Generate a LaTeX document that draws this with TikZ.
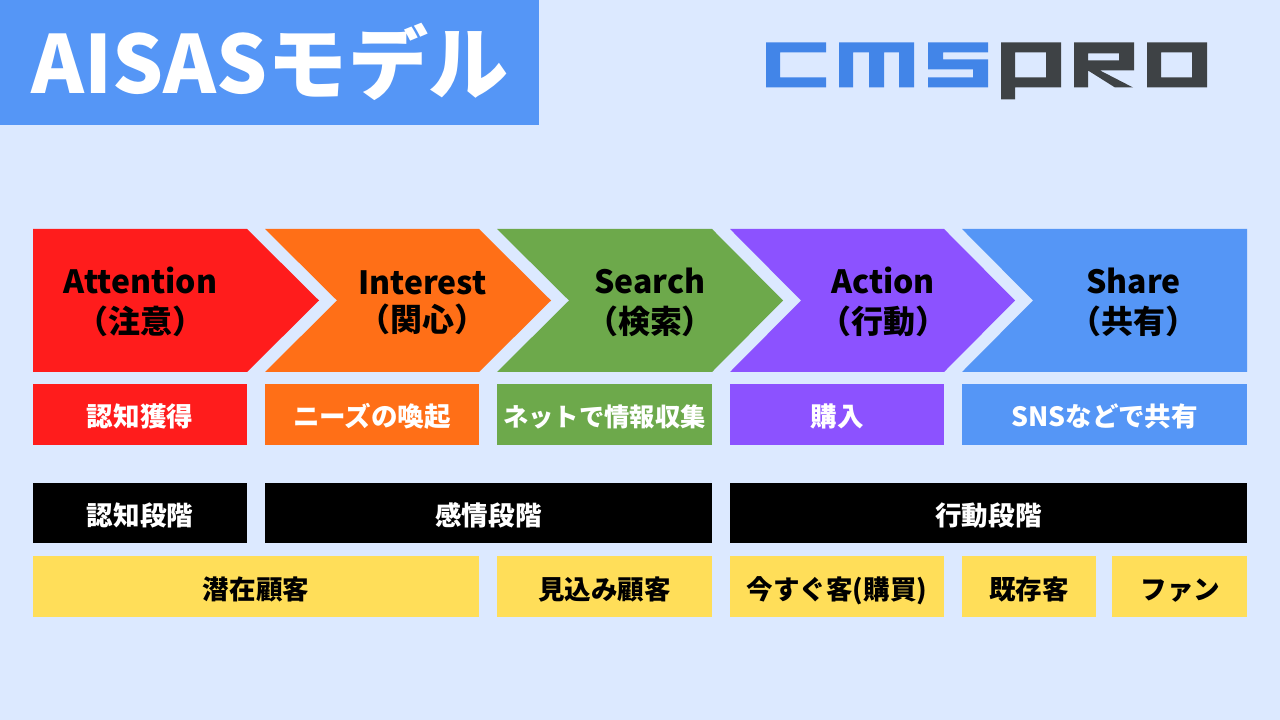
\documentclass[tikz,border=0pt]{standalone}
\usepackage{fontspec}
\setmainfont{Noto Sans CJK JP}
\definecolor{bgblue}{HTML}{DCE9FF}
\definecolor{cred}{HTML}{FF1C1C}
\definecolor{corange}{HTML}{FF6F17}
\definecolor{cgreen}{HTML}{6DA94B}
\definecolor{cpurple}{HTML}{8C52FF}
\definecolor{cblue}{HTML}{5596F6}
\definecolor{cyellow}{HTML}{FFDE59}
\definecolor{logoblue}{HTML}{4285E8}
\definecolor{logogray}{HTML}{3E4245}
\tikzset{
	head/.style={align=center, font=\fontsize{9.1}{11.4}\selectfont\bfseries, text=black},
	bar/.style={minimum height=0.61cm, inner sep=0pt, align=center, text height=7pt, text depth=0.06pt, font=\fontsize{7.55}{9}\selectfont\bfseries},
	stage/.style={bar, minimum height=0.605cm, fill=black, text=white},
	cust/.style={bar, minimum height=0.61cm, text height=7.5pt, text depth=0pt, fill=cyellow, text=black},
}
\begin{document}
\begin{tikzpicture}
	\useasboundingbox (0,0) rectangle (12.8,-7.2);
	\fill[bgblue] (0,0) rectangle (12.8,-7.2);
	% Title
	\fill[cblue] (0,0) rectangle (5.39,-1.25);
	\node[text=white, font=\fontsize{22.8}{27}\selectfont\bfseries, inner sep=0pt] (title) at (2.70,-0.62) {AISASモデル};
	% Logo
	\fill[logoblue] (7.66,-0.425) -- (8.26,-0.425) -- (8.26,-0.525) -- (7.80,-0.525) -- (7.80,-0.775) -- (8.26,-0.775) -- (8.26,-0.875) -- (7.66,-0.875) -- cycle;
	\fill[logoblue] (8.39,-0.425) -- (9.14,-0.425) -- (9.14,-0.875) -- (8.99,-0.875) -- (8.99,-0.525) -- (8.84,-0.525) -- (8.84,-0.875) -- (8.69,-0.875) -- (8.69,-0.525) -- (8.53,-0.525) -- (8.53,-0.875) -- (8.39,-0.875) -- cycle;
	\fill[logoblue] (9.28,-0.425) -- (9.88,-0.425) -- (9.88,-0.525) -- (9.43,-0.525) -- (9.43,-0.595) -- (9.88,-0.595) -- (9.88,-0.875) -- (9.28,-0.875) -- (9.28,-0.775) -- (9.73,-0.775) -- (9.73,-0.695) -- (9.28,-0.695) -- cycle;
	\fill[logogray, even odd rule] (10.01,-0.425) -- (10.61,-0.425) -- (10.61,-0.875) -- (10.15,-0.875) -- (10.15,-0.995) -- (10.01,-0.995) -- cycle (10.15,-0.525) rectangle (10.46,-0.775);
	\fill[logogray, even odd rule] (10.74,-0.425) -- (11.34,-0.425) -- (11.34,-0.705) -- (11.00,-0.705) -- (11.33,-0.875) -- (11.15,-0.875) -- (10.88,-0.705) -- (10.88,-0.875) -- (10.74,-0.875) -- cycle (10.88,-0.535) rectangle (11.19,-0.605);
	\fill[logogray, even odd rule] (11.47,-0.425) rectangle (12.07,-0.875) (11.61,-0.525) rectangle (11.92,-0.775);
	% Arrows
	\fill[cred] (0.33,-2.29) -- (2.47,-2.29) -- (3.19,-3.005) -- (2.47,-3.72) -- (0.33,-3.72) -- cycle;
	\fill[corange] (2.65,-2.29) -- (4.79,-2.29) -- (5.51,-3.005) -- (4.79,-3.72) -- (2.65,-3.72) -- (3.37,-3.005) -- cycle;
	\fill[cgreen] (4.97,-2.29) -- (7.12,-2.29) -- (7.83,-3.005) -- (7.12,-3.72) -- (4.97,-3.72) -- (5.69,-3.005) -- cycle;
	\fill[cpurple] (7.30,-2.29) -- (9.44,-2.29) -- (10.15,-3.005) -- (9.44,-3.72) -- (7.30,-3.72) -- (8.01,-3.005) -- cycle;
	\fill[cblue] (9.62,-2.29) -- (12.47,-2.29) -- (12.47,-3.72) -- (9.62,-3.72) -- (10.33,-3.005) -- cycle;
	\node[head] (attention) at (1.405,-3.02) {Attention\\（注意）};
	\node[head] (interest) at (4.225,-3.03) {Interest\\[-0.85pt]（関心）};
	\node[head] (search) at (6.50,-3.02) {Search\\（検索）};
	\node[head] (action) at (8.83,-3.02) {Action\\（行動）};
	\node[head] (share) at (11.335,-3.02) {Share\\（共有）};
	% Actions
	\node[bar, minimum width=2.14cm, fill=cred, text=white] (aware) at (1.40,-4.145) {認知獲得};
	\node[bar, minimum width=2.14cm, fill=corange, text=white] (needs) at (3.72,-4.145) {ニーズの喚起};
	\node[bar, minimum width=2.15cm, fill=cgreen, text=white, font=\fontsize{7.2}{9}\selectfont\bfseries] (collect) at (6.045,-4.145) {ネットで情報収集};
	\node[bar, minimum width=2.14cm, fill=cpurple, text=white] (buy) at (8.37,-4.145) {購入};
	\node[bar, minimum width=2.85cm, fill=cblue, text=white] (sns) at (11.045,-4.145) {SNSなどで共有};
	% Stages
	\node[stage, minimum width=2.14cm] (stage1) at (1.40,-5.13) {認知段階};
	\node[stage, minimum width=4.47cm] (stage2) at (4.885,-5.13) {感情段階};
	\node[stage, minimum width=5.17cm] (stage3) at (9.885,-5.13) {行動段階};
	% Customers
	\node[cust, minimum width=4.46cm] (cust1) at (2.56,-5.865) {潜在顧客};
	\node[cust, minimum width=2.15cm] (cust2) at (6.045,-5.865) {見込み顧客};
	\node[cust, minimum width=2.14cm] (cust3) at (8.37,-5.865) {今すぐ客(購買)};
	\node[cust, minimum width=1.34cm] (cust4) at (10.29,-5.865) {既存客};
	\node[cust, minimum width=1.35cm] (cust5) at (11.795,-5.865) {\hspace{0.5pt}ファン};
\end{tikzpicture}
\end{document}
